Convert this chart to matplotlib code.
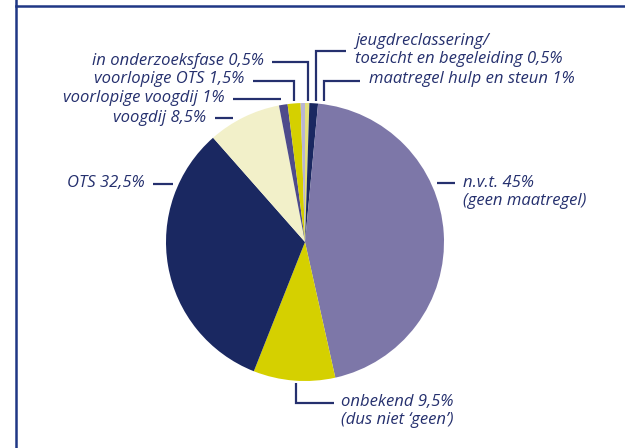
import matplotlib
matplotlib.use("Agg")
import matplotlib.pyplot as plt

# slices, clockwise from 12 o'clock
labels = ["jeugdreclassering/\ntoezicht en begeleiding 0,5%",
          "maatregel hulp en steun 1%",
          "n.v.t. 45%\n(geen maatregel)",
          "onbekend 9,5%\n(dus niet \u2018geen\u2019)",
          "OTS 32,5%",
          "voogdij 8,5%",
          "voorlopige voogdij 1%",
          "voorlopige OTS 1,5%",
          "in onderzoeksfase 0,5%"]
shares = [0.5, 1, 45, 9.5, 32.5, 8.5, 1, 1.5, 0.5]
colors = ["#e3e07a", "#1a2861", "#7d77a8", "#d5d000", "#1a2861",
          "#f2f0c9", "#4e4b8b", "#d5d000", "#b9b5d3"]

navy = "#25306e"
frame_col = "#1f3785"

fig = plt.figure(figsize=(6.25, 4.48), dpi=100)
ax = fig.add_axes([0, 0, 1, 1])

# y axis is flipped below, so screen-clockwise = data-counterclockwise
ax.pie(shares, colors=colors, startangle=-90, counterclock=True,
       center=(305, 242), radius=139, wedgeprops=dict(linewidth=0))

ax.set_xlim(0, 625)
ax.set_ylim(448, 0)
ax.set_aspect("equal")
ax.axis("off")

# label text: (x, y, align)
pos = [(355, 50, "left"), (369, 79, "left"), (463, 192, "left"),
       (341, 411, "left"), (145, 183, "right"), (206, 118, "right"),
       (225, 98, "right"), (244, 79, "right"), (264, 61, "right")]
for lab, (x, y, ha) in zip(labels, pos):
    ax.text(x, y, lab, ha=ha, va="center", color=navy, fontsize=12,
            style="italic", family=["Open Sans", "DejaVu Sans"],
            linespacing=1.15)

# leader lines
leaders = [
    [(346, 51), (316, 51), (316, 101)],
    [(360, 81), (324, 81), (324, 101)],
    [(437, 183), (455, 183)],
    [(296, 383), (296, 403), (334, 403)],
    [(153, 184), (173, 184)],
    [(215, 118), (233, 118)],
    [(233, 99), (281, 99)],
    [(253, 81), (294, 81), (294, 101)],
    [(272, 62), (308, 62), (308, 101)],
]
for pts in leaders:
    xs = [p[0] for p in pts]
    ys = [p[1] for p in pts]
    ax.plot(xs, ys, color=navy, lw=1.6, solid_capstyle="butt",
            solid_joinstyle="miter")

# frame lines
ax.plot([16, 16], [0, 448], color=frame_col, lw=1.8, clip_on=False)
ax.plot([16, 625], [6, 6], color=frame_col, lw=1.8, clip_on=False)

fig.savefig("out.png", dpi=100)
